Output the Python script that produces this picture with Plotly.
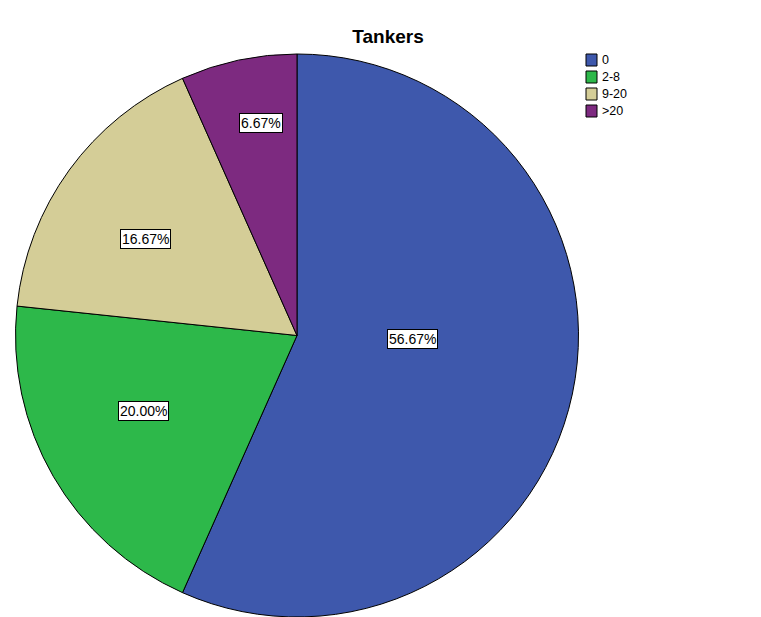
import math
import plotly.graph_objects as go

# Tanker counts per category (n = 30)
categories = ["0", "2-8", "9-20", ">20"]
counts = [17, 6, 5, 2]
colors = ["#3E58AC", "#2DB84A", "#D4CD97", "#7D2A80"]

W, H = 761, 617
cx, cy, R = 297, 336, 282                 # pie centre and radius in pixels
label_frac = [0.408, 0.606, 0.637, 0.766]  # radial placement of each percentage label
label_shift = [-10.5, 4.0, -3.3, 2.4]      # angular nudge (degrees) off the slice bisector
FONT = "Liberation Sans, Arial"

fig = go.Figure(go.Pie(
    labels=categories,
    values=counts,
    sort=False,
    direction="clockwise",
    rotation=0,
    marker=dict(colors=colors, line=dict(color="black", width=1)),
    textinfo="none",
    hoverinfo="label+percent",
    showlegend=False,
    domain=dict(x=[(cx - R) / W, (cx + R) / W],
                y=[max(0, (H - cy - R) / H), (H - cy + R) / H]),
))

# Boxed percentage labels placed near each slice's bisector
total = sum(counts)
cum = 0
for v, f, d in zip(counts, label_frac, label_shift):
    mid = (cum + v / 2) / total * 2 * math.pi + math.radians(d)
    cum += v
    px = cx + f * R * math.sin(mid)
    py = cy - f * R * math.cos(mid)
    fig.add_annotation(
        x=px / W, y=1 - py / H, xref="paper", yref="paper",
        xanchor="center", yanchor="middle",
        text=f"{v / total * 100:.2f}%", showarrow=False,
        font=dict(family=FONT, size=14, color="black"),
        bgcolor="white", bordercolor="black", borderwidth=1, borderpad=1,
    )

# Legend: outlined colour swatches with category names
sw_x, sw_y, sw_w, sw_h, step = 586, 54, 11, 12, 17
for i, (name, col) in enumerate(zip(categories, colors)):
    top = sw_y + i * step
    fig.add_shape(
        type="rect", xref="paper", yref="paper",
        x0=sw_x / W, x1=(sw_x + sw_w) / W,
        y0=1 - (top + sw_h) / H, y1=1 - top / H,
        fillcolor=col, line=dict(color="black", width=1),
    )
    fig.add_annotation(
        x=(sw_x + sw_w + 3) / W, y=1 - (top + sw_h / 2) / H,
        xref="paper", yref="paper", xanchor="left", yanchor="middle",
        text=name, showarrow=False,
        font=dict(family=FONT, size=12.5, color="black"),
    )

fig.update_layout(
    width=W, height=H,
    margin=dict(l=0, r=0, t=0, b=0),
    paper_bgcolor="white",
    title=dict(text="<b>Tankers</b>", x=388 / W, xanchor="center",
               y=1 - 36 / H, yanchor="middle",
               font=dict(family=FONT, size=19, color="black")),
)

fig.write_html("out.html")
